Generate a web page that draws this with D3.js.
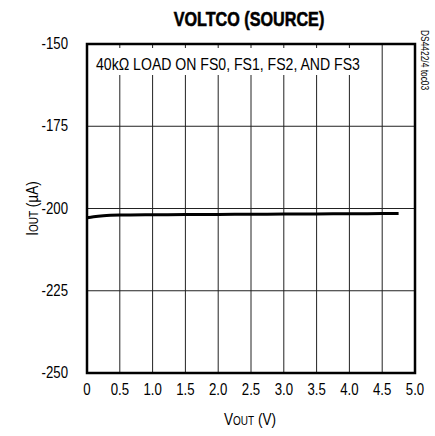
<!DOCTYPE html>
<html>
<head>
<meta charset="utf-8">
<script src="https://cdn.jsdelivr.net/npm/d3@7"></script>
<style>
  body { margin: 0; background: #fff; }
  text { font-family: "Liberation Sans", Arial, sans-serif; fill: #000; }
</style>
</head>
<body>
<svg id="chart" width="435" height="436"></svg>
<script>
// VOUT (V) and IOUT (uA)
const vout = [0, 0.1, 0.25, 0.5, 1.0, 1.5, 2.0, 2.5, 3.0, 3.5, 4.0, 4.5, 4.75];
const iout = [-202.8, -202.5, -202.2, -202.0, -201.9, -201.85, -201.8, -201.75, -201.7, -201.65, -201.6, -201.55, -201.5];
const xTicks = [0, 0.5, 1.0, 1.5, 2.0, 2.5, 3.0, 3.5, 4.0, 4.5, 5.0];
const yTicks = [-150, -175, -200, -225, -250];

const svg = d3.select('#chart');
const plotL = 87, plotR = 415, plotT = 44, plotB = 373;

const x = d3.scaleLinear().domain([0, 5]).range([plotL, plotR]);
const y = d3.scaleLinear().domain([-250, -150]).range([plotB, plotT]);

// condensed text: the reference uses a narrow Helvetica
function label(px, py, rot, anchor, size, sx) {
    return svg.append('text')
        .attr('transform', `translate(${px},${py}) rotate(${rot}) scale(${sx},1)`)
        .attr('text-anchor', anchor)
        .attr('font-size', size);
}

// grid lines
svg.append('g')
    .selectAll('line')
    .data(xTicks.slice(1, -1))
    .enter()
    .append('line')
    .attr('x1', d => x(d)).attr('x2', d => x(d))
    .attr('y1', plotT).attr('y2', plotB)
    .attr('stroke', '#222').attr('stroke-width', 1);

svg.append('g')
    .selectAll('line')
    .data(yTicks.slice(1, -1))
    .enter()
    .append('line')
    .attr('x1', plotL).attr('x2', plotR)
    .attr('y1', d => y(d)).attr('y2', d => y(d))
    .attr('stroke', '#222').attr('stroke-width', 1);

// white box behind the note, with small ticks along the top
svg.append('rect')
    .attr('x', plotL).attr('y', plotT)
    .attr('width', x(4.5) - plotL - 8).attr('height', 31)
    .attr('fill', '#fff');

svg.append('g')
    .selectAll('line')
    .data(xTicks.slice(1, -2))
    .enter()
    .append('line')
    .attr('x1', d => x(d)).attr('x2', d => x(d))
    .attr('y1', plotT).attr('y2', plotT + 4)
    .attr('stroke', '#222').attr('stroke-width', 1);

label(96, 70, 0, 'start', 16, 0.88).text('40kΩ LOAD ON FS0, FS1, FS2, AND FS3');

// curve
const line = d3.line()
    .x((d, i) => x(vout[i]))
    .y(d => y(d))
    .curve(d3.curveMonotoneX);

svg.append('path')
    .datum(iout)
    .attr('d', line)
    .attr('fill', 'none')
    .attr('stroke', '#000')
    .attr('stroke-width', 3);

// frame
svg.append('rect')
    .attr('x', plotL).attr('y', plotT)
    .attr('width', plotR - plotL).attr('height', plotB - plotT)
    .attr('fill', 'none')
    .attr('stroke', '#000')
    .attr('stroke-width', 2.5);

// tick labels
yTicks.forEach(d => label(68, y(d) + 5, 0, 'end', 16.5, 0.8).text(d));
xTicks.forEach(d => label(x(d), 395, 0, 'middle', 16.5, 0.8).text(d === 0 ? '0' : d.toFixed(1)));

// title
label(249, 26, 0, 'middle', 21, 0.77)
    .attr('font-weight', 'bold')
    .attr('stroke', '#000').attr('stroke-width', 0.6)
    .text('VOLTCO (SOURCE)');

// axis titles
const xt = label(250, 425, 0, 'middle', 17, 0.8);
xt.append('tspan').text('V');
xt.append('tspan').attr('font-size', 12.5).text('OUT');
xt.append('tspan').text(' (V)');

const yt = label(38, y(-200), -90, 'middle', 17, 0.8);
yt.append('tspan').text('I');
yt.append('tspan').attr('font-size', 12.5).text('OUT');
yt.append('tspan').text(' (µA)');

// side label
label(421, 30, 90, 'start', 10.5, 0.8).text('DS4422/4 toc03');
</script>
</body>
</html>
